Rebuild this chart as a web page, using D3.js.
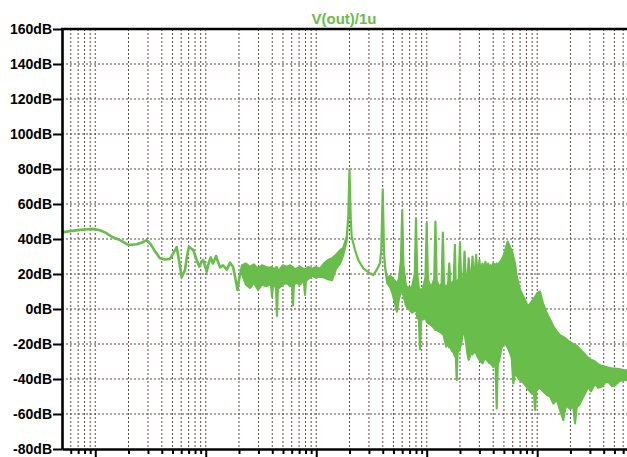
<!DOCTYPE html>
<html>
<head>
<meta charset="utf-8">
<script src="https://cdn.jsdelivr.net/npm/d3@7"></script>
<style>
  body { margin: 0; background: #fff; }
  svg { display: block; }
  .grid line { stroke: #5f4c48; stroke-width: 1; stroke-dasharray: 2,2; }
  .axis text { font-family: "Liberation Sans", Arial, sans-serif; font-weight: bold; font-size: 14px; fill: #000; }
  .axis line, .axis path { stroke: #000; }
</style>
</head>
<body>
<svg id="chart"></svg>
<script>
const traceTitle = 'V(out)/1u'

const yTicks = [160, 140, 120, 100, 80, 60, 40, 20, 0, -20, -40, -60, -80]

// low frequency part: a single clean line
const lineFreq = [5, 5.9, 7.3, 8.6, 9.5, 11, 12.5, 14.1, 16.7, 19.9, 23.7, 26.5, 29.2, 31.3, 34.7, 38.5, 42.8, 47.4, 51, 54.6,
                  57.2, 60.6, 64.9, 67.6, 70.5, 77.1, 82.8, 87.3, 91.5, 94.9, 102, 106, 111, 116, 124, 129, 135, 143, 155, 166,
                  177, 186, 194, 204]
const lineDb = [43.8, 44.5, 45.2, 45.6, 45.8, 45, 43.5, 41.3, 39.4, 36.6, 37, 38, 39.4, 37.5, 33, 29, 28.3, 28.6, 32, 35.3,
                28, 18.1, 22.3, 30, 35.6, 33.7, 28, 24.2, 27, 28, 21.3, 26, 29.5, 26, 30.3, 27, 23.8, 25, 22.5, 26.5,
                24, 17, 11, 20]

// noisy part: upper / lower envelope of the trace
const bandFreq = [204, 213, 231, 251, 273, 297, 323, 351, 381, 390, 398, 406, 423, 433, 441, 450, 460, 500, 544, 579,
                  604, 616, 628, 656, 713, 759, 776, 791, 806, 842, 915, 995, 1082, 1176, 1278, 1389, 1510, 1642, 1758, 1887,
                  1951, 2000, 2051, 2094, 2243, 2403, 2666, 3066, 3284, 3525, 3776, 3880, 4000, 4100, 4190, 4400, 4650, 4850, 5160, 5380,
                  5610, 5850, 6000, 6150, 6490, 6910, 7360, 7800, 8000, 8200, 8500, 8690, 8880, 9250, 9750, 10000, 10250, 10940, 11700, 12000,
                  12300, 13190, 13650, 14000, 14350, 15000, 15600, 16000, 16400, 17000, 17550, 18000, 18300, 18700, 19000, 19500, 20000, 20500, 21000, 21450,
                  22000, 22550, 23000, 23400, 24000, 24600, 25000, 25350, 26000, 26650, 27300, 28000, 28700, 29300, 30000, 30750, 32000, 33000, 34000, 35000,
                  36000, 37000, 38000, 39000, 40000, 42000, 43000, 44000, 45100, 47600, 49300, 51100, 54100, 56800, 58800, 60800, 63000, 65300, 69900, 74900,
                  80400, 83100, 89200, 93500, 95600, 98000, 100000, 106000, 113000, 122000, 131000, 140000, 151000, 161000, 172000, 182000, 198000, 212000, 220000, 228000,
                  239000, 262000, 290000, 307000, 334000, 355000, 384000, 411000, 440000, 476000, 506000, 562000, 624000, 680000]
const bandHi = [20, 25, 26, 24, 25.5, 23, 25, 24, 23.5, 24, 24, 23, 23, 24, 24, 22, 22, 25, 24, 25,
                24, 24, 23, 23, 24, 23, 23, 23, 23, 24, 23, 24, 23, 26, 28, 29, 31, 33.5, 35, 41.3,
                52.7, 79.8, 52.7, 41.3, 33.7, 28, 23.2, 20.4, 19.4, 22.3, 26.1, 33.7, 68.4, 33.7, 24.2, 17, 19, 18, 16, 15,
                17, 28, 56.2, 25, 13, 12, 12.5, 20, 51.3, 20, 12, 11, 11, 12, 18, 49, 17, 12, 17, 49.9,
                16, 12, 15, 43.6, 14, 13, 14, 26, 14, 15, 16, 36.6, 15, 15, 16, 17, 37.5, 16, 17, 18,
                32.8, 17, 18, 18, 29, 18, 18, 19, 30, 19, 20, 30.9, 20, 21, 28, 21, 26, 21, 27, 22,
                26, 23, 25, 23, 26, 25, 26, 25, 26, 28, 30, 33, 38.5, 35, 33.7, 30, 26, 18.5, 11, 7,
                3, 1.3, 4.2, 6, 7, 8, 9, 10, 3, -2.5, -6, -10, -13, -15, -16, -17, -19, -20, -20.6, -21,
                -22.5, -25, -28, -29, -30, -31.5, -32.5, -33, -33.5, -34, -34, -34.5, -35, -35]
const bandLo = [20, 20, 14, 12, 15, 11, 14, 13, 14, 14, 7, 13, 13, 12, -4, 12, 12, 14, 15, 13,
                14, 2, 14, 15, 14, 16, 15, 8, 16, 17, 19, 18, 18.5, 18, 17, 16.5, 23, 26, 31, 39,
                52.7, 79.8, 52.7, 41.3, 33.7, 28, 23.2, 20.4, 19.4, 22.3, 26.1, 33.7, 68.4, 33.7, 24.2, 14.7, 12.7, 10, 3.4, -1.5,
                6, 10, 12, 8, 2, 0, -2, -1, 2, -4.6, -6, -23, -6, -6, -5, -7, -8, -9, -11, -12,
                -12, -13, -14, -14, -15.8, -21.5, -20, -22, -22, -24, -25, -27, -26, -40.6, -25, -24, -22, -20, -15, -14,
                -14, -18, -22, -26, -29, -27, -24, -25, -26, -23.4, -25, -25, -27, -28, -29, -30, -31, -29, -28, -29,
                -30, -31, -31, -32, -33, -32, -56.8, -31, -30, -22, -20, -19.6, -22, -25, -28, -42.5, -36.6, -38, -40.6, -42,
                -44.4, -46, -48.2, -48, -57.7, -47, -46, -45, -47, -49, -50, -54, -52, -57.7, -63.4, -55, -57, -56, -65.3, -56,
                -55, -50, -44.4, -47, -42.5, -45, -44.4, -42, -41.6, -44, -43.5, -41, -40.6, -40]

function main () {
  const svgWidth = 627
  const svgHeight = 457
  const plotLeft = 62
  const plotTop = 29
  const plotBottom = 449
  const traceColor = '#69bd4a'

  const x = d3.scaleLog().domain([5, 650000]).range([plotLeft, svgWidth])
  const y = d3.scaleLinear().domain([-80, 160]).range([plotBottom, plotTop])

  const svg = d3.select('#chart')
    .attr('width', svgWidth)
    .attr('height', svgHeight)

  const gridFreqs = x.ticks().filter(f => f > 5 && f < 650000)
  const isDecade = f => Math.abs(Math.log10(f) - Math.round(Math.log10(f))) < 1e-9

  // grid
  const grid = svg.append('g').attr('class', 'grid')
  grid.selectAll('.vgrid')
    .data(gridFreqs)
    .enter()
    .append('line')
    .attr('x1', d => x(d)).attr('x2', d => x(d))
    .attr('y1', plotTop).attr('y2', plotBottom)
  grid.selectAll('.hgrid')
    .data(yTicks.filter(d => d > -80 && d < 160))
    .enter()
    .append('line')
    .attr('x1', plotLeft).attr('x2', svgWidth)
    .attr('y1', d => y(d)).attr('y2', d => y(d))

  svg.append('clipPath').attr('id', 'plotClip')
    .append('rect')
    .attr('x', plotLeft).attr('y', plotTop)
    .attr('width', svgWidth - plotLeft).attr('height', plotBottom - plotTop)

  const trace = svg.append('g').attr('clip-path', 'url(#plotClip)')

  const lineData = lineFreq.map((f, i) => ({f: f, db: lineDb[i]}))
  const bandData = bandFreq.map((f, i) => ({f: f, hi: bandHi[i], lo: bandLo[i]}))

  const line = d3.line().x(d => x(d.f)).y(d => y(d.db))
  const area = d3.area().x(d => x(d.f)).y0(d => y(d.lo)).y1(d => y(d.hi))

  trace.append('path')
    .datum(bandData)
    .attr('d', area)
    .attr('fill', traceColor)
    .attr('stroke', traceColor)
    .attr('stroke-width', 2.2)
    .attr('stroke-linejoin', 'round')

  trace.append('path')
    .datum(lineData)
    .attr('d', line)
    .attr('fill', 'none')
    .attr('stroke', traceColor)
    .attr('stroke-width', 2.6)
    .attr('stroke-linejoin', 'round')

  // axes
  const yAxis = d3.axisLeft(y)
    .tickValues(yTicks)
    .tickSize(9)
    .tickSizeOuter(0)
    .tickPadding(1)
    .tickFormat(d => d + 'dB')

  const gy = svg.append('g')
    .attr('class', 'axis')
    .attr('transform', `translate(${plotLeft},0)`)
    .call(yAxis)
  gy.selectAll('line').attr('stroke-width', 2)
  gy.select('.domain').attr('stroke-width', 2.6)

  const xAxis = d3.axisBottom(x)
    .tickValues(gridFreqs)
    .tickSize(5)
    .tickSizeOuter(0)
    .tickFormat('')

  const gx = svg.append('g')
    .attr('class', 'axis')
    .attr('transform', `translate(0,${plotBottom})`)
    .call(xAxis)
  gx.selectAll('.tick line')
    .attr('stroke-width', 2)
    .attr('y2', d => isDecade(d) ? 12 : 5)
  gx.select('.domain').attr('stroke-width', 2.6)

  svg.append('line')
    .attr('x1', plotLeft - 1).attr('x2', svgWidth)
    .attr('y1', plotTop).attr('y2', plotTop)
    .attr('stroke', '#000')
    .attr('stroke-width', 2.4)

  svg.append('text')
    .attr('x', 344)
    .attr('y', 24)
    .attr('text-anchor', 'middle')
    .style('font-family', '"Liberation Sans", Arial, sans-serif')
    .style('font-weight', 'bold')
    .style('font-size', '15px')
    .attr('fill', traceColor)
    .text(traceTitle)
}

main()
</script>
</body>
</html>
